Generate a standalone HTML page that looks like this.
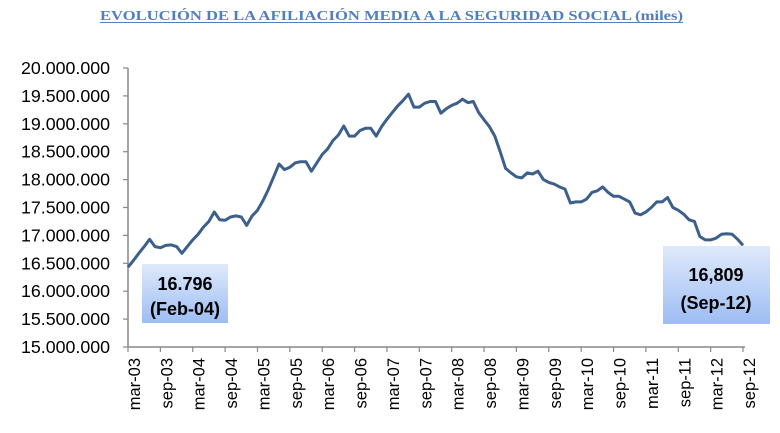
<!DOCTYPE html>
<html><head><meta charset="utf-8"><style>
html,body{margin:0;padding:0;background:#fff}
svg{display:block;font-family:"Liberation Sans",sans-serif}
</style></head><body>
<svg id="chart" width="780" height="433" viewBox="0 0 780 433">
<defs>
<linearGradient id="bg" x1="0" y1="0" x2="0" y2="1"><stop offset="0" stop-color="#dfe9fb"/><stop offset="1" stop-color="#9dbdf3"/></linearGradient>
</defs>
<text x="100" y="20" textLength="583" lengthAdjust="spacingAndGlyphs" font-family="Liberation Serif, serif" font-weight="bold" font-size="13.5" fill="#4f7fc0">EVOLUCIÓN DE LA AFILIACIÓN MEDIA A LA SEGURIDAD SOCIAL (miles)</text>
<line x1="100" y1="22.5" x2="683" y2="22.5" stroke="#4f7fc0" stroke-width="1"/>
<g id="axes"></g>
<path id="series" fill="none" stroke="#3c5f8c" stroke-width="3" stroke-linejoin="round"/>
<g>
<rect x="142" y="264" width="86" height="59" fill="url(#bg)"/>
<text x="185" y="290" text-anchor="middle" font-weight="bold" font-size="18">16.796</text>
<text x="185" y="315" text-anchor="middle" font-weight="bold" font-size="18">(Feb-04)</text>
</g>
<g>
<rect x="663" y="246" width="107" height="78" fill="url(#bg)"/>
<text x="716" y="281" text-anchor="middle" font-weight="bold" font-size="18">16,809</text>
<text x="716" y="309" text-anchor="middle" font-weight="bold" font-size="18">(Sep-12)</text>
</g>
</svg>
<script>
const yTicks=[15,15.5,16,16.5,17,17.5,18,18.5,19,19.5,20];
const yTickLabels=["15.000.000","15.500.000","16.000.000","16.500.000","17.000.000","17.500.000","18.000.000","18.500.000","19.000.000","19.500.000","20.000.000"];
const xTickLabels=["mar-03","sep-03","mar-04","sep-04","mar-05","sep-05","mar-06","sep-06","mar-07","sep-07","mar-08","sep-08","mar-09","sep-09","mar-10","sep-10","mar-11","sep-11","mar-12","sep-12"];
const values=[
16.43,16.55,16.68,16.80,16.93,16.80,16.78,16.82,16.83,16.80,
16.68,16.80,16.92,17.02,17.15,17.25,17.42,17.28,17.27,17.33,17.35,17.33,
17.18,17.35,17.45,17.62,17.82,18.05,18.28,18.18,18.22,18.30,18.32,18.32,
18.15,18.30,18.45,18.55,18.70,18.80,18.96,18.78,18.78,18.88,18.92,18.92,
18.78,18.95,19.08,19.20,19.32,19.42,19.53,19.30,19.30,19.37,19.40,19.40,
19.19,19.27,19.33,19.37,19.44,19.38,19.40,19.20,19.07,18.95,18.78,18.50,
18.20,18.12,18.05,18.03,18.12,18.10,18.15,18.00,17.95,17.92,17.87,17.83,
17.58,17.60,17.60,17.65,17.77,17.80,17.87,17.77,17.70,17.70,17.65,17.60,
17.40,17.37,17.42,17.50,17.60,17.60,17.68,17.50,17.45,17.38,17.28,17.25,
16.98,16.92,16.92,16.95,17.02,17.03,17.02,16.93,16.82];
const X0=128,X1=743,Y0=347,Y1=68;
const x=i=>X0+(X1-X0)*i/(values.length-1);
const y=v=>Y0-(v-15)/(20-15)*(Y0-Y1);
const NS="http://www.w3.org/2000/svg";
const ax=document.getElementById('axes');
function mk(t,a,p){const e=document.createElementNS(NS,t);for(const k in a)e.setAttribute(k,a[k]);(p||ax).appendChild(e);return e;}
const yl=mk('line',{x1:X0,y1:Y1,x2:X0,y2:Y0,stroke:'#888','stroke-width':1.5});


const xl=mk('line',{x1:X0,y1:Y0,x2:X1+2,y2:Y0,stroke:'#888','stroke-width':1.5});


yTicks.forEach((v,k)=>{
 mk('line',{x1:X0-5,y1:y(v),x2:X0,y2:y(v),stroke:'#888','stroke-width':1.2});
 const t=mk('text',{x:110,y:y(v)+6,'text-anchor':'end','font-size':17.8,fill:'#000'});
 t.textContent=yTickLabels[k];
 
 
});
xTickLabels.forEach((l,k)=>{
 const xx=x(k*6);
 mk('line',{x1:xx,y1:Y0,x2:xx,y2:Y0+5,stroke:'#888','stroke-width':1.2});
 const t=mk('text',{x:0,y:0,'text-anchor':'end','font-size':16.5,fill:'#000',transform:`translate(${xx+12},358) rotate(-90)`});
 t.textContent=l;
 
 
});
document.getElementById('series').setAttribute('d',values.map((v,i)=>(i?'L':'M')+x(i).toFixed(1)+','+y(v).toFixed(1)).join(''));
</script>
</body></html>
